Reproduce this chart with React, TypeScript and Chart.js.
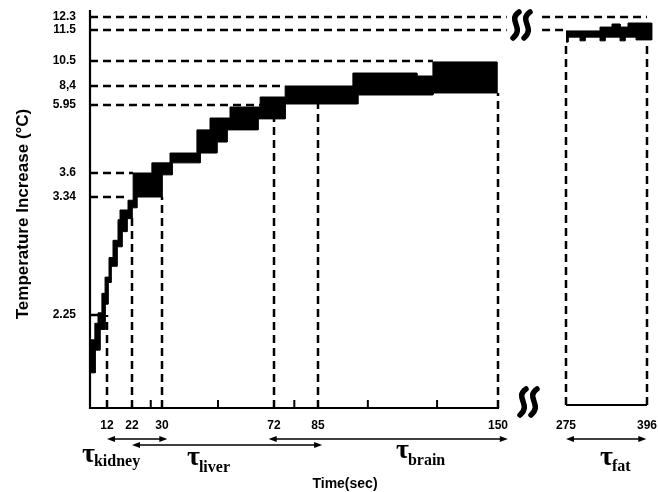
import { useEffect, useRef } from 'react';
import { Chart, registerables, LinearScale } from 'chart.js';

Chart.register(...registerables);

// ---------- data ----------
const yTickValues = [2.25, 3.34, 3.6, 5.95, 8.4, 10.5, 11.5, 12.3];
const yTickLabels = ['2.25', '3.34', '3.6', '5.95', '8,4', '10.5', '11.5', '12.3'];
const xMajorTicks = [12, 22, 30, 72, 85, 150, 275, 396];
const xMinorTicks = [27, 51, 78, 103, 128];

// measured band outline (top edge left->right, then bottom edge right->left)
const bandLeftTime = [5.4, 7.0, 7.0, 8.3, 8.3, 9.9, 9.9, 11.2, 11.2, 12.8, 12.8, 14.4, 14.4, 16.4, 16.4, 17.2, 17.2, 20.4, 20.4, 22.3, 22.3, 27.3, 27.3, 33.0, 33.0, 43.1, 43.1, 48, 48, 55.5, 55.5, 66.8, 66.8, 75.3, 75.3, 97.6, 97.6, 120.7, 120.7, 126.5, 126.5, 149.6,
  149.6, 126.5, 126.5, 99.4, 99.4, 75.3, 75.3, 66.0, 66.0, 54.4, 54.4, 50.6, 50.6, 44.3, 44.3, 33.8, 33.8, 30, 30, 23.3, 23.3, 22, 22, 20, 20, 18, 18, 16, 16, 13.6, 13.6, 12.4, 12.4, 11.2, 11.2, 9.1, 9.1, 7.1, 7.1, 5.4];
const bandLeftTemp = [1.65, 1.65, 2.05, 2.05, 2.27, 2.27, 2.45, 2.45, 2.6, 2.6, 2.78, 2.78, 2.94, 2.94, 3.13, 3.13, 3.22, 3.22, 3.31, 3.31, 3.6, 3.6, 3.95, 3.95, 4.29, 4.29, 5.09, 5.09, 5.5, 5.5, 5.88, 5.88, 6.98, 6.98, 8.4, 8.4, 9.49, 9.49, 9.24, 9.24, 10.42, 10.42,
  7.5, 7.5, 7.24, 7.24, 6.08, 6.08, 5.47, 5.47, 5.09, 5.09, 4.67, 4.67, 4.29, 4.29, 3.95, 3.95, 3.58, 3.58, 3.34, 3.34, 3.24, 3.24, 3.14, 3.14, 3.02, 3.02, 2.88, 2.88, 2.7, 2.7, 2.55, 2.55, 2.35, 2.35, 1.9, 1.9, 1.4, 1.4, 0.85, 0.85];
const bandRightTime = [275, 325.8, 325.8, 343.7, 343.7, 355.7, 355.7, 367.6, 367.6, 403, 403, 379.6, 379.6, 363.1, 363.1, 355.7, 355.7, 333.3, 333.3, 325.8, 325.8, 303.4, 303.4, 295.9, 295.9, 278, 278, 275];
const bandRightTemp = [11.47, 11.47, 11.68, 11.68, 11.87, 11.87, 11.68, 11.68, 11.93, 11.93, 11.18, 11.18, 11.27, 11.27, 11.15, 11.15, 11.27, 11.27, 11.15, 11.15, 11.27, 11.27, 11.15, 11.15, 11.27, 11.27, 11.11, 11.11];

const hRefTemps = [12.3, 11.5, 10.5, 8.4, 5.95, 3.6, 3.34, 2.25];
const hRefEnd = [166, 166, 126.5, 75.3, 66.8, 22.3, 19, 10.8];
const hRefResume = [231, 231, null, null, null, null, null, null];
const hRefResumeEnd = [396, 275, null, null, null, null, null, null];

const vRefTimes = [12, 22, 30, 72, 85, 150, 275, 396];
const vRefTop = [2.25, 3.19, 3.34, 5.47, 6.08, 7.5, 11.11, 11.11];
const vRefBottom = [0, 0, 0, 0, 0, 0, 0.07, 0.07];

const tauNames = ['kidney', 'liver', 'brain', 'fat'];
const tauFrom = [12, 22, 70, 275];
const tauTo = [32, 86.5, 168, 395];

// ---------- layout (axis geometry of the hand-drawn figure) ----------
const FRAME = { left: 90, right: 655, top: 10, bottom: 408 };
const X_ANCHOR_VALUES = [5, 12, 22, 30, 72, 85, 150, 275, 396];
const X_ANCHOR_PX = [90, 107, 132, 162, 274, 318, 498, 566, 647];
const Y_ANCHOR_VALUES = [0, 2.25, 3.34, 3.6, 5.95, 8.4, 10.5, 11.5, 12.3, 12.7];
const Y_ANCHOR_PX = [408, 315, 197, 173, 105, 86, 61, 30, 17, 10];

const ANCHORS: Record<string, { v: number[]; f: number[] }> = {
  x: { v: X_ANCHOR_VALUES, f: X_ANCHOR_PX.map((p) => (p - FRAME.left) / (FRAME.right - FRAME.left)) },
  y: { v: Y_ANCHOR_VALUES, f: Y_ANCHOR_PX.map((p) => (FRAME.bottom - p) / (FRAME.bottom - FRAME.top)) },
};

function interp(v: number, xs: number[], ys: number[]) {
  const n = xs.length;
  let i = 0;
  if (v <= xs[0]) i = 0;
  else if (v >= xs[n - 1]) i = n - 2;
  else {
    while (i < n - 2 && v > xs[i + 1]) i++;
  }
  const t = (v - xs[i]) / (xs[i + 1] - xs[i]);
  return ys[i] + t * (ys[i + 1] - ys[i]);
}

class PiecewiseScale extends (LinearScale as any) {
  static id = 'piecewise';
  static defaults = (LinearScale as any).defaults;
  getPixelForValue(value: any) {
    if (value === null || value === undefined || Number.isNaN(+value)) return NaN;
    const a = ANCHORS[(this as any).id];
    const f = interp(+value, a.v, a.f);
    const s: any = this;
    return s.isHorizontal() ? s.left + f * s.width : s.bottom - f * s.height;
  }
  getValueForPixel(pixel: number) {
    const a = ANCHORS[(this as any).id];
    const s: any = this;
    const f = s.isHorizontal() ? (pixel - s.left) / s.width : (s.bottom - pixel) / s.height;
    return interp(f, a.f, a.v);
  }
}
Chart.register(PiecewiseScale as any);

const SANS = '"Liberation Sans", Arial, sans-serif';
const SERIF = '"Liberation Serif", "Times New Roman", serif';

const ARROW_Y = [439, 445, 439, 439];
const TAU_POS = [
  { x: 82, base: 462, sub: 466 },
  { x: 187, base: 465, sub: 472 },
  { x: 396, base: 458, sub: 465 },
  { x: 600, base: 465, sub: 471 },
];

function drawBreak(ctx: CanvasRenderingContext2D, x: number, top: number, h: number) {
  ctx.save();
  ctx.lineWidth = 5.5;
  ctx.lineCap = 'round';
  for (const dx of [0, 11]) {
    const cx = x + dx;
    ctx.beginPath();
    ctx.moveTo(cx + 3, top);
    ctx.bezierCurveTo(cx - 9, top + h * 0.32, cx + 9, top + h * 0.6, cx - 3, top + h);
    ctx.stroke();
  }
  ctx.restore();
}

const decor = {
  id: 'decor',
  afterDatasetsDraw(chart: any) {
    const { ctx, chartArea: a, scales } = chart;
    const xs = scales.x;
    ctx.save();
    ctx.strokeStyle = '#000';
    ctx.fillStyle = '#000';
    ctx.setLineDash([]);
    // axes
    ctx.lineWidth = 2.2;
    ctx.beginPath();
    ctx.moveTo(a.left, a.top);
    ctx.lineTo(a.left, a.bottom);
    ctx.lineTo(xs.getPixelForValue(150) + 1, a.bottom);
    ctx.stroke();
    const rb = a.bottom - 3;
    ctx.beginPath();
    ctx.moveTo(xs.getPixelForValue(275), rb);
    ctx.lineTo(xs.getPixelForValue(396), rb);
    ctx.stroke();
    // tick marks (pointing up)
    ctx.lineWidth = 2;
    for (const v of [...xMajorTicks, ...xMinorTicks]) {
      const px = xs.getPixelForValue(v);
      const base = v > 200 ? rb : a.bottom;
      ctx.beginPath();
      ctx.moveTo(px, base);
      ctx.lineTo(px, base - 8);
      ctx.stroke();
    }
    // axis breaks
    drawBreak(ctx, 516, 12, 26);
    drawBreak(ctx, 523, 389, 26);
    // arrows
    ctx.lineWidth = 1.4;
    tauNames.forEach((_, i) => {
      const x1 = xs.getPixelForValue(tauFrom[i]);
      const x2 = xs.getPixelForValue(tauTo[i]);
      const y = ARROW_Y[i];
      ctx.beginPath();
      ctx.moveTo(x1 + 4, y);
      ctx.lineTo(x2 - 4, y);
      ctx.stroke();
      for (const [tip, dir] of [[x1, -1], [x2, 1]] as [number, number][]) {
        ctx.beginPath();
        ctx.moveTo(tip, y);
        ctx.lineTo(tip - dir * 8, y - 3);
        ctx.lineTo(tip - dir * 8, y + 3);
        ctx.closePath();
        ctx.fill();
      }
    });
    // tau labels
    ctx.textAlign = 'left';
    ctx.textBaseline = 'alphabetic';
    tauNames.forEach((name, i) => {
      const p = TAU_POS[i];
      ctx.font = `bold 28px ${SERIF}`;
      ctx.fillText('τ', p.x, p.base);
      const w = ctx.measureText('τ').width;
      ctx.font = `bold 16px ${SERIF}`;
      ctx.fillText(name, p.x + w - 1, p.sub);
    });
    // axis titles
    ctx.font = `bold 14px ${SANS}`;
    ctx.textAlign = 'center';
    ctx.textBaseline = 'middle';
    ctx.fillText('Time(sec)', 345, 484);
    ctx.save();
    ctx.translate(28, 214);
    ctx.rotate(-Math.PI / 2);
    ctx.font = `bold 17px ${SANS}`;
    ctx.textBaseline = 'alphabetic';
    ctx.fillText('Temperature Increase (°C)', 0, 0);
    ctx.restore();
    ctx.restore();
  },
};

export default function App() {
  const ref = useRef<HTMLCanvasElement>(null);
  useEffect(() => {
    if (!ref.current) return;
    const dash = {
      borderColor: '#000',
      borderWidth: 2.5,
      borderDash: [8, 5],
      borderCapStyle: 'butt',
      pointRadius: 0,
      fill: false,
      tension: 0,
      spanGaps: false,
    };
    const band = {
      fill: 'shape',
      backgroundColor: '#000',
      borderColor: '#000',
      borderWidth: 1,
      pointRadius: 0,
      tension: 0,
    };
    const datasets: any[] = [
      { ...band, data: bandLeftTime.map((t, i) => ({ x: t, y: bandLeftTemp[i] })) },
      { ...band, data: bandRightTime.map((t, i) => ({ x: t, y: bandRightTemp[i] })) },
    ];
    hRefTemps.forEach((T, i) => {
      const pts: any[] = [{ x: 5, y: T }, { x: hRefEnd[i], y: T }];
      const r = hRefResume[i];
      const re = hRefResumeEnd[i];
      if (r !== null && re !== null) {
        pts.push({ x: (hRefEnd[i] + r) / 2, y: null }, { x: r, y: T }, { x: re, y: T });
      }
      datasets.push({ ...dash, data: pts });
    });
    vRefTimes.forEach((t, i) => {
      datasets.push({ ...dash, data: [{ x: t, y: vRefBottom[i] }, { x: t, y: vRefTop[i] }] });
    });

    const chart = new Chart(ref.current, {
      type: 'line',
      data: { datasets },
      plugins: [decor],
      options: {
        responsive: false,
        animation: false,
        devicePixelRatio: 1,
        events: [],
        layout: { padding: { top: FRAME.top, right: 658 - FRAME.right, left: 0, bottom: 0 } },
        plugins: { legend: { display: false }, tooltip: { enabled: false } },
        scales: {
          x: {
            type: 'piecewise' as any,
            min: 5,
            max: 405,
            grid: { display: false, drawTicks: false },
            border: { display: false },
            afterBuildTicks: (s: any) => {
              s.ticks = [...xMajorTicks, ...xMinorTicks].sort((a, b) => a - b).map((v) => ({ value: v }));
            },
            afterFit: (s: any) => {
              s.height = 492 - FRAME.bottom;
              s.paddingLeft = 0;
              s.paddingRight = 0;
            },
            ticks: {
              autoSkip: false,
              maxRotation: 0,
              minRotation: 0,
              padding: 10,
              color: '#000',
              font: { family: SANS, size: 12, weight: 'bold' },
              callback: (v: any) => (xMajorTicks.includes(v) ? String(v) : ''),
            },
          },
          y: {
            type: 'piecewise' as any,
            min: 0,
            max: 12.7,
            grid: { display: false, drawTicks: false },
            border: { display: false },
            afterBuildTicks: (s: any) => {
              s.ticks = yTickValues.map((v) => ({ value: v }));
            },
            afterFit: (s: any) => {
              s.width = FRAME.left;
              s.paddingTop = 0;
              s.paddingBottom = 0;
            },
            ticks: {
              autoSkip: false,
              padding: 14,
              color: '#000',
              font: { family: SANS, size: 12, weight: 'bold' },
              callback: (_v: any, i: number) => yTickLabels[i],
            },
          },
        } as any,
      },
    });
    return () => chart.destroy();
  }, []);

  return (
    <div style={{ position: 'absolute', left: 0, top: 0, width: 658, height: 492, background: '#fff' }}>
      <canvas ref={ref} width={658} height={492} style={{ display: 'block' }} />
    </div>
  );
}
